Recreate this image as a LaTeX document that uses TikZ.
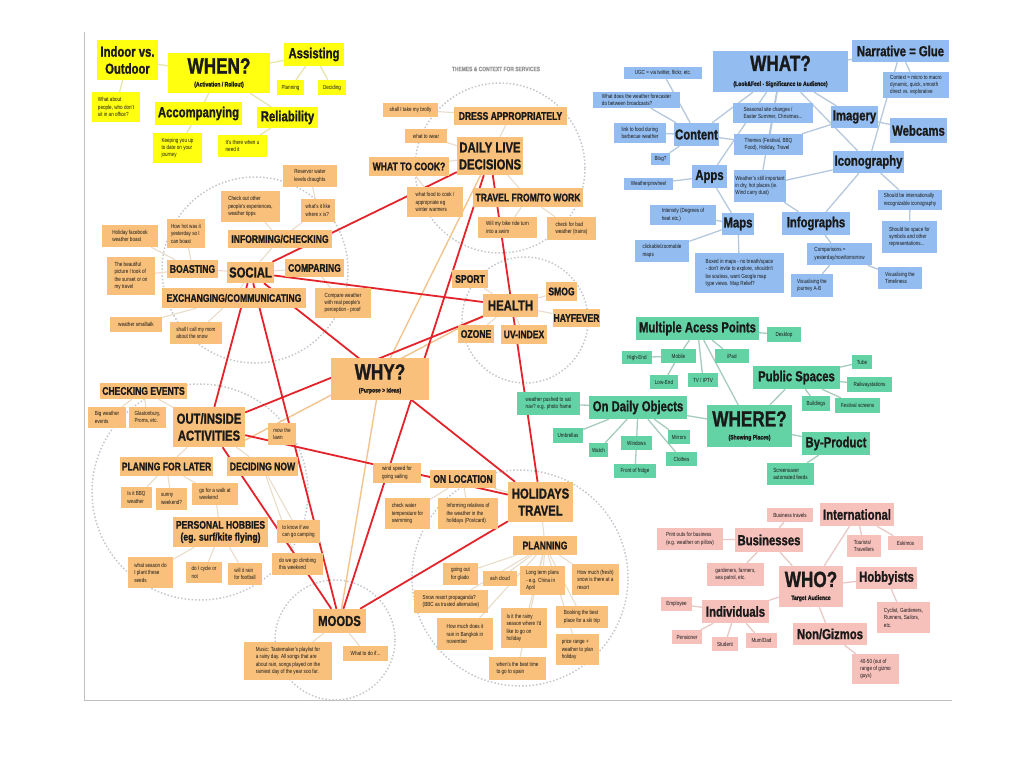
\documentclass[tikz,border=0pt]{standalone}
\usepackage{fontspec}
\setmainfont{Liberation Sans}[FakeStretch=0.78,BoldFeatures={FakeBold=1.2}]
\pgfdeclarelayer{back}
\pgfsetlayers{back,main}
\definecolor{cY}{HTML}{FFFF10}
\definecolor{cO}{HTML}{F8C07B}
\definecolor{cB}{HTML}{93BDF0}
\definecolor{cG}{HTML}{63D3A5}
\definecolor{cP}{HTML}{F6C0BB}
\definecolor{cR}{HTML}{E3242B}
\definecolor{cT}{HTML}{F2C48E}
\definecolor{cLY}{HTML}{E4E4A8}
\definecolor{cLO}{HTML}{E9DCC8}
\definecolor{cLB}{HTML}{B5C8DE}
\definecolor{cLG}{HTML}{A6CCBB}
\definecolor{cLP}{HTML}{E8C9C6}
\definecolor{cC}{HTML}{C4C8CE}
\definecolor{txt}{HTML}{1A1A1A}
\newcommand\B[7]{\node[#1,minimum width={#5-#3},minimum height={#6-#4}] (#2) at ({(#3+#5)/2},{(#4+#6)/2}) {#7};}
\begin{document}
\begin{tikzpicture}[x=1pt,y=-1pt,
  box/.style={rectangle,inner sep=1pt,text=txt,align=center},
  sm/.style={box,align=left,font=\fontsize{5.9}{7.4}\selectfont},
  md/.style={box,font=\bfseries\fontsize{11}{12}\selectfont},
  bg/.style={box,font=\bfseries\fontsize{14.5}{17}\selectfont},
  hub/.style={box,font=\bfseries\fontsize{22}{13}\selectfont},
  yel/.style={fill=cY}, ora/.style={fill=cO}, blu/.style={fill=cB},
  gre/.style={fill=cG}, pin/.style={fill=cP},
  title/.style={text=black!40,font=\bfseries\fontsize{6.3}{7}\selectfont},
  lny/.style={draw=cLY,line width=1.2pt},
  lno/.style={draw=cLO,line width=1.1pt},
  lnb/.style={draw=cLB,line width=1.3pt},
  lng/.style={draw=cLG,line width=1.3pt},
  lnp/.style={draw=cLP,line width=1.3pt},
  redl/.style={draw=cR,line width=1.8pt},
  tanl/.style={draw=cT,line width=1.4pt},
  dotc/.style={draw=cC,dotted,line width=1.5pt},
  frame/.style={draw=black!25,line width=0.8pt}]
\useasboundingbox (0,0) rectangle (1024,767);

% ---------- WHEN (yellow)
\B{bg,yel}{indoor}{97}{40}{158}{80}{Indoor vs.\\Outdoor}
\B{hub,yel}{when}{168}{53}{270}{93}{WHEN?\\{\fontsize{6.5}{8}\selectfont(Activation / Rollout)}}
\B{bg,yel}{assist}{284}{43}{344}{66}{Assisting}
\B{sm,yel}{yplan}{277}{80}{304}{95}{Planning}
\B{sm,yel}{ydecid}{318}{80}{346}{95}{Deciding}
\B{sm,yel}{whatabout}{92}{92}{140}{122}{What about\\people, who don't\\sit in an office?}
\B{bg,yel}{accomp}{155}{102}{242}{125}{Accompanying}
\B{bg,yel}{reliab}{257}{107}{318}{128}{Reliability}
\B{sm,yel}{keeping}{153}{133}{202}{163}{Keeping you up\\to date on your\\journey}
\B{sm,yel}{there}{218}{135}{267}{157}{It's there when u\\need it}

% ---------- WHY (orange)
\node[title] (title) at (496,69) {THEMES \& CONTEXT FOR SERVICES};
\B{sm,ora}{brolly}{383}{103}{438}{117}{shall I take my brolly}
\B{md,ora}{dress}{454}{107}{567}{125}{DRESS APPROPRIATELY}
\B{sm,ora}{wear}{405}{129}{447}{143}{what to wear}
\B{bg,ora}{daily}{457}{137}{523}{175}{DAILY LIVE\\DECISIONS}
\B{md,ora}{cook}{369}{157}{449}{176}{WHAT TO COOK?}
\B{sm,ora}{food}{407}{187}{463}{217}{what food to cook /\\appropriate eg\\winter warmers}
\B{md,ora}{travel}{473}{188}{583}{207}{TRAVEL FROM/TO WORK}
\B{sm,ora}{bike}{478}{217}{537}{238}{Will my bike ride turn\\into a swim}
\B{sm,ora}{trains}{547}{217}{596}{240}{check for bad\\weather (trains)}

\B{sm,ora}{reserv}{283}{165}{337}{187}{Reservor water\\levels draughts}
\B{sm,ora}{checkout}{221}{191}{280}{222}{Check out other\\people's experiences,\\weather tipps}
\B{sm,ora}{whatslike}{301}{199}{335}{222}{what's it like\\where x is?}
\B{sm,ora}{howhot}{167}{219}{205}{248}{How hot was it\\yesterday so I\\can boast}
\B{sm,ora}{holfb}{102}{225}{158}{247}{Holiday facebook\\weather boast}
\B{md,ora}{inform}{228}{230}{332}{248}{INFORMING/CHECKING}
\B{sm,ora}{beautiful}{107}{257}{155}{295}{The beautiful\\picture I took of\\the sunset or on\\my travel}
\B{md,ora}{boast}{167}{260}{218}{278}{BOASTING}
\B{bg,ora}{social}{227}{262}{274}{283}{SOCIAL}
\B{md,ora}{comparing}{285}{259}{344}{277}{COMPARING}
\B{md,ora}{exch}{162}{288}{306}{308}{EXCHANGING/COMMUNICATING}
\B{sm,ora}{compare}{315}{288}{371}{318}{Compare weather\\with real people's\\perception - proof}
\B{sm,ora}{smalltalk}{110}{317}{162}{332}{weather smalltalk}
\B{sm,ora}{callmom}{170}{322}{222}{344}{shall I call my mom\\about the snow}

\B{md,ora}{sport}{452}{270}{488}{288}{SPORT}
\B{md,ora}{smog}{546}{282}{577}{301}{SMOG}
\B{bg,ora}{health}{483}{294}{538}{317}{HEALTH}
\B{md,ora}{hayfever}{553}{309}{600}{327}{HAYFEVER}
\B{md,ora}{ozone}{458}{325}{494}{343}{OZONE}
\B{md,ora}{uv}{501}{325}{547}{344}{UV-INDEX}
\B{hub,ora}{why}{331}{358}{429}{400}{WHY?\\{\fontsize{6.5}{8}\selectfont(Purpose > Ideas)}}

\B{md,ora}{checkev}{100}{383}{187}{399}{CHECKING EVENTS}
\B{sm,ora}{bigw}{88}{407}{126}{428}{Big weather\\events}
\B{sm,ora}{glast}{129}{407}{166}{428}{Glastonbury,\\Proms, etc.}
\B{bg,ora}{out}{173}{407}{245}{447}{OUT/INSIDE\\ACTIVITIES}
\B{sm,ora}{mow}{268}{423}{296}{445}{mow the\\lawn}
\B{md,ora}{planlater}{120}{457}{213}{476}{PLANING FOR LATER}
\B{md,ora}{decnow}{227}{457}{298}{476}{DECIDING NOW}
\B{sm,ora}{bbq}{121}{487}{152}{508}{Is it BBQ\\weather}
\B{sm,ora}{sunny}{156}{488}{187}{510}{sunny\\weekend?}
\B{sm,ora}{walk}{192}{483}{238}{505}{go for a walk at\\weekend}
\B{md,ora}{hobbies}{173}{517}{268}{547}{PERSONAL HOBBIES\\(eg. surf/kite flying)}
\B{sm,ora}{camping}{277}{520}{320}{543}{to know if we\\can go camping}
\B{sm,ora}{season}{128}{557}{173}{588}{what season do\\I plant these\\seeds}
\B{sm,ora}{cycle}{186}{562}{222}{583}{do I cycle or\\not}
\B{sm,ora}{football}{228}{563}{262}{585}{will it rain\\for football}
\B{sm,ora}{climb}{272}{553}{323}{575}{do we go climbing\\this weekend}

\B{sm,ora}{wind}{373}{463}{421}{483}{wind speed for\\going sailing}
\B{md,ora}{onloc}{430}{470}{496}{488}{ON LOCATION}
\B{bg,ora}{holid}{508}{482}{573}{522}{HOLIDAYS\\TRAVEL}
\B{sm,ora}{water}{385}{498}{430}{529}{check water\\temperature for\\swimming}
\B{sm,ora}{relatives}{438}{498}{498}{529}{Informing relatives of\\the weather in the\\holidays (Postcard)}
\B{md,ora}{planning}{513}{536}{577}{555}{PLANNING}
\B{sm,ora}{glado}{443}{563}{478}{585}{going out\\for glado}
\B{sm,ora}{ash}{483}{571}{517}{586}{ash cloud}
\B{sm,ora}{longterm}{520}{566}{565}{595}{Long term plans\\- e.g. China in\\April}
\B{sm,ora}{freshsnow}{572}{564}{619}{595}{How much (fresh)\\snow is there at a\\resort}
\B{sm,ora}{snowres}{414}{590}{488}{613}{Snow resort propaganda?\\(BBC as trusted alternative)}
\B{sm,ora}{bangkok}{437}{618}{493}{650}{How much does it\\rain in Bangkok in\\november}
\B{sm,ora}{rainy}{501}{608}{547}{648}{Is it the rainy\\season where I'd\\like to go on\\holiday}
\B{sm,ora}{booking}{556}{606}{608}{628}{Booking the best\\place for a ski trip}
\B{sm,ora}{price}{556}{634}{599}{665}{price range +\\weather to plan\\holiday}
\B{sm,ora}{spain}{489}{657}{546}{680}{when's the best time\\to go to spain}
\B{bg,ora}{moods}{313}{609}{366}{633}{MOODS}
\B{sm,ora}{music}{244}{642}{332}{680}{Music: Tastemaker's playlist for\\a rainy day. All songs that are\\about rain, songs played on the\\rainiest day of the year soo far.}
\B{sm,ora}{whattodo}{343}{646}{388}{661}{What to do if...}

% ---------- WHAT (blue)
\B{hub,blu}{what}{713}{51}{848}{92}{WHAT?\\[2pt]{\fontsize{6.5}{8}\selectfont(Look\&Feel - Significance to Audience)}}
\B{bg,blu}{narr}{852}{40}{949}{62}{Narrative = Glue}
\B{sm,blu}{ugc}{624}{67}{702}{79}{UGC = via twitter, flickr, etc.}
\B{sm,blu}{forecaster}{593}{92}{680}{108}{What does the weather forecaster\\do between broadcasts?}
\B{sm,blu}{context}{883}{72}{949}{98}{Context = micro to macro\\dynamic, quick, smooth\\direct vs. explorative}
\B{sm,blu}{seasonal}{733}{103}{813}{123}{Seasonal site changes /\\Easter Summer, Christmas...}
\B{bg,blu}{imagery}{831}{106}{878}{128}{Imagery}
\B{sm,blu}{linkfood}{614}{123}{666}{143}{link to food during\\barbecue weather}
\B{bg,blu}{content}{674}{123}{719}{146}{Content}
\B{bg,blu}{webcams}{890}{118}{947}{143}{Webcams}
\B{sm,blu}{themes}{734}{134}{803}{155}{Themes (Festival, BBQ\\Food), Holiday, Travel}
\B{sm,blu}{blog}{651}{153}{670}{165}{Blog?}
\B{bg,blu}{icon}{833}{151}{904}{173}{Iconography}
\B{bg,blu}{apps}{692}{165}{727}{188}{Apps}
\B{sm,blu}{pinwheel}{624}{178}{673}{190}{Weatherpinwheel}
\B{sm,blu}{dry}{735}{170}{785}{202}{Weather's still important\\in dry, hot places (ie.\\Wind carry dust)}
\B{sm,blu}{intl}{878}{190}{942}{210}{Should be internationally\\recognizable iconography}
\B{sm,blu}{intensity}{650}{205}{716}{225}{Intensity (Degrees of\\heat etc.)}
\B{bg,blu}{maps}{722}{213}{754}{235}{Maps}
\B{bg,blu}{infog}{782}{212}{850}{235}{Infographs}
\B{sm,blu}{space}{882}{221}{937}{253}{Should be space for\\symbols and other\\representations...}
\B{sm,blu}{clickable}{635}{240}{689}{262}{clickable/zoomable\\maps}
\B{sm,blu}{comparisons}{807}{243}{872}{265}{Comparisons =\\yesterday/now/tomorrow}
\B{sm,blu}{boxed}{695}{253}{784}{293}{Boxed in maps - no breath/space\\- don't invite to explore, shouldn't\\be souless, want Google map\\type views. Map Relief?}
\B{sm,blu}{journey}{791}{274}{833}{297}{Visualising the\\journey A-B}
\B{sm,blu}{timeliness}{878}{267}{922}{289}{Visualising the\\Timeliness}

% ---------- WHERE (green)
\B{bg,gre}{multi}{636}{317}{759}{340}{Multiple Acess Points}
\B{sm,gre}{desktop}{767}{327}{801}{342}{Desktop}
\B{sm,gre}{highend}{622}{351}{652}{364}{High-End}
\B{sm,gre}{mobile}{661}{349}{696}{363}{Mobile}
\B{sm,gre}{ipad}{715}{349}{749}{363}{iPad}
\B{sm,gre}{tube}{852}{355}{872}{369}{Tube}
\B{sm,gre}{lowend}{650}{375}{678}{389}{Low-End}
\B{sm,gre}{tv}{688}{373}{718}{387}{TV / IPTV}
\B{bg,gre}{public}{753}{366}{840}{389}{Public Spaces}
\B{sm,gre}{railway}{847}{377}{892}{392}{Railwaystations}
\B{sm,gre}{buildings}{802}{396}{830}{411}{Buildings}
\B{sm,gre}{festival}{835}{398}{880}{413}{Festival screens}
\B{sm,gre}{satnav}{517}{392}{580}{415}{weather pushed to sat\\nav? e.g. photo frame}
\B{bg,gre}{dailyobj}{589}{396}{687}{419}{On Daily Objects}
\B{hub,gre}{where}{707}{405}{792}{447}{WHERE?\\{\fontsize{6.5}{8}\selectfont(Showing Places)}}
\B{sm,gre}{umbrellas}{553}{428}{583}{443}{Umbrellas}
\B{sm,gre}{mirrors}{668}{430}{690}{444}{Mirrors}
\B{bg,gre}{byprod}{802}{432}{870}{455}{By-Product}
\B{sm,gre}{watch}{589}{443}{608}{457}{Watch}
\B{sm,gre}{windows}{621}{436}{652}{450}{Windows}
\B{sm,gre}{clothes}{666}{452}{697}{466}{Clothes}
\B{sm,gre}{fridge}{614}{464}{656}{478}{Front of fridge}
\B{sm,gre}{screensaver}{767}{463}{814}{485}{Screensaver\\automated feeds}

% ---------- WHO (pink)
\B{sm,pin}{bustrav}{767}{508}{813}{522}{Business travels}
\B{bg,pin}{international}{820}{503}{894}{526}{International}
\B{sm,pin}{printouts}{657}{528}{723}{550}{Print outs for business\\(e.g. weather on pillow)}
\B{bg,pin}{businesses}{735}{528}{803}{552}{Businesses}
\B{sm,pin}{tourists}{847}{535}{881}{557}{Tourists/\\Travellers}
\B{sm,pin}{eskimos}{888}{536}{923}{550}{Eskimos}
\B{sm,pin}{gardeners}{707}{563}{764}{586}{gardeners, farmers,\\sea patrol, etc.}
\B{hub,pin}{who}{779}{566}{843}{607}{WHO?\\{\fontsize{6.5}{8}\selectfont Target Audience}}
\B{bg,pin}{hobbyists}{856}{567}{917}{589}{Hobbyists}
\B{sm,pin}{employee}{661}{597}{692}{611}{Employee}
\B{bg,pin}{individuals}{702}{600}{769}{623}{Individuals}
\B{sm,pin}{cyclist}{877}{602}{930}{633}{Cyclist, Gardeners,\\Runners, Sailors,\\etc.}
\B{sm,pin}{pensioner}{672}{630}{702}{644}{Pensioner}
\B{sm,pin}{student}{712}{637}{738}{651}{Student}
\B{sm,pin}{mumdad}{746}{633}{777}{648}{Mum/Dad}
\B{bg,pin}{nongizmo}{793}{623}{867}{645}{Non/Gizmos}
\B{sm,pin}{fortyfifty}{852}{654}{899}{684}{40-50 (out of\\range of gizmo\\guys)}

\begin{pgfonlayer}{back}
\fill[white] (0,0) rectangle (1024,767);
\draw[frame] (84,32) -- (84,700) -- (952,700);
% dotted theme circles
\draw[dotc] (500,168) circle[radius=85pt];
\draw[dotc] (255,270) circle[radius=93pt];
\draw[dotc] (525,320) circle[radius=63pt];
\draw[dotc] (200,492) circle[radius=108pt];
\draw[dotc] (335,640) circle[radius=60pt];
\draw[dotc] (520,578) circle[radius=108pt];
% light connectors
\foreach \a/\b in {when/indoor,indoor/whatabout,when/assist,assist/yplan,assist/ydecid,when/accomp,when/reliab,accomp/keeping,reliab/there}
  \draw[lny] (\a) -- (\b);
\foreach \a/\b in {daily/dress,dress/brolly,daily/wear,daily/cook,cook/food,daily/travel,travel/bike,travel/trains,
  social/inform,inform/checkout,inform/whatslike,whatslike/reserv,social/boast,boast/howhot,boast/holfb,boast/beautiful,
  social/comparing,comparing/compare,social/exch,exch/smalltalk,exch/callmom,
  health/sport,health/smog,health/hayfever,health/ozone,health/uv,
  out/checkev,checkev/bigw,checkev/glast,out/planlater,out/decnow,planlater/bbq,planlater/sunny,planlater/walk,walk/hobbies,
  hobbies/season,hobbies/cycle,hobbies/football,decnow/camping,decnow/climb,
  holid/onloc,onloc/wind,onloc/water,onloc/relatives,holid/planning,planning/glado,planning/ash,planning/longterm,
  planning/freshsnow,planning/snowres,planning/bangkok,planning/rainy,planning/booking,planning/price,planning/spain,
  moods/music,moods/whattodo}
  \draw[lno] (\a) -- (\b);
\foreach \a/\b in {what/narr,what/content,what/apps,what/seasonal,what/themes,what/imagery,what/icon,what/dry,narr/context,narr/icon,
  imagery/webcams,imagery/themes,content/ugc,content/forecaster,content/linkfood,content/blog,content/themes,apps/pinwheel,
  icon/dry,icon/intl,icon/infog,dry/infog,intl/space,maps/intensity,maps/clickable,maps/boxed,apps/maps,
  infog/comparisons,comparisons/journey,comparisons/timeliness}
  \draw[lnb] (\a) -- (\b);
\foreach \a/\b in {where/multi,where/dailyobj,where/public,where/byprod,multi/desktop,multi/mobile,multi/ipad,multi/tv,
  mobile/highend,mobile/lowend,public/tube,public/railway,public/buildings,public/festival,dailyobj/satnav,
  dailyobj/umbrellas,dailyobj/watch,dailyobj/windows,windows/fridge,dailyobj/mirrors,dailyobj/clothes,byprod/screensaver}
  \draw[lng] (\a) -- (\b);
\foreach \a/\b in {who/businesses,who/international,who/hobbyists,who/individuals,who/nongizmo,businesses/bustrav,
  businesses/printouts,businesses/gardeners,international/tourists,international/eskimos,hobbyists/cyclist,
  individuals/employee,individuals/pensioner,individuals/student,individuals/mumdad,nongizmo/fortyfifty}
  \draw[lnp] (\a) -- (\b);
% tan links between themes
\draw[tanl] (daily) -- (why);
\draw[tanl] (why) -- (moods);
\draw[tanl] (out.-20) -- (health.200);
% red links between themes
\foreach \a/\b in {social/daily,social/health,social/holid,social/out,social/moods,out/health,out/holid,out/moods,
  daily/moods,daily/holid,holid/moods}
  \draw[redl] (\a) -- (\b);
\end{pgfonlayer}
\end{tikzpicture}
\end{document}
